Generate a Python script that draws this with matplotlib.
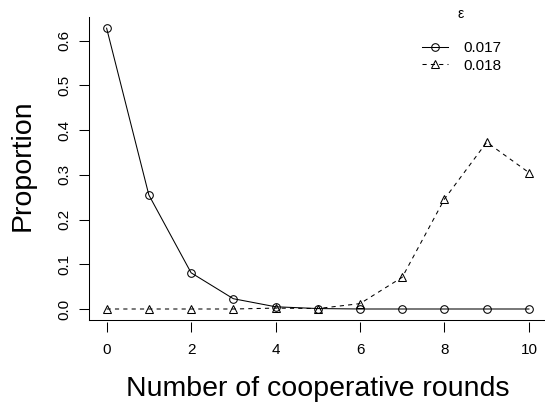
import matplotlib
matplotlib.use("Agg")
import matplotlib.pyplot as plt
import numpy as np

plt.rcParams['font.family'] = ['Liberation Sans', 'DejaVu Sans']

rounds = [0, 1, 2, 3, 4, 5, 6, 7, 8, 9, 10]
eps_017 = [0.628, 0.255, 0.081, 0.023, 0.005, 0.001, 0.0, 0.0, 0.0, 0.0, 0.0]
eps_018 = [0.0, 0.0, 0.0, 0.0, 0.002, 0.001, 0.012, 0.071, 0.246, 0.373, 0.305]
labels = ['0.017', '0.018']
xticks = [0, 2, 4, 6, 8, 10]
yticks = [0.0, 0.1, 0.2, 0.3, 0.4, 0.5, 0.6]

W, H = 545, 403
fig = plt.figure(figsize=(W / 100, H / 100), dpi=100)
ax = fig.add_axes([89.3 / W, 1 - 320 / H, (W - 89.3) / W, (320 - 17) / H])

ax.plot(rounds, eps_017, color='black', lw=0.75, marker='o', ms=5.5,
        mfc='none', mec='black', mew=0.75, label=labels[0])
ax.plot(rounds, eps_018, color='black', lw=0.75, ls=(0, (4, 4)), marker='^', ms=6,
        mfc='none', mec='black', mew=0.75, label=labels[1])

ax.set_xlim(-0.41, 10.38)
ax.set_ylim(-0.0246, 0.653)

# R style: left + bottom box, x axis drawn a bit below
for s in ['top', 'right', 'bottom']:
    ax.spines[s].set_visible(False)
ax.spines['left'].set_linewidth(0.75)
ax.spines['bottom'].set_position(('outward', 1.5))
ax.plot([0, 1], [0, 0], transform=ax.transAxes, color='black', lw=0.75, clip_on=False)

ax.set_xticks(xticks)
ax.set_xticklabels([str(v) for v in xticks])
ax.set_yticks(yticks)
ax.set_yticklabels(['%.1f' % v for v in yticks], rotation=90, va='center')
ax.tick_params(axis='x', length=7, width=0.75, pad=8, labelsize=11)
ax.tick_params(axis='y', length=7, width=0.75, pad=6, labelsize=11)

fig.text(317.5 / W, 1 - 396 / H, 'Number of cooperative rounds', ha='center', va='baseline', fontsize=20.5)
fig.text(23 / W, 1 - 165 / H, 'Proportion', ha='center', va='center', rotation=90, fontsize=20.5)

fig.text(461 / W, 1 - 14 / H, 'ε', ha='center', va='center', fontsize=10)
ax.legend(loc='upper left', bbox_to_anchor=(422 / W, 1 - 41 / H), bbox_transform=fig.transFigure,
          frameon=False, fontsize=11, borderpad=0, borderaxespad=0, handlelength=1.7,
          handletextpad=1.0, labelspacing=0.25, numpoints=1)

fig.savefig('out.png', dpi=100)
